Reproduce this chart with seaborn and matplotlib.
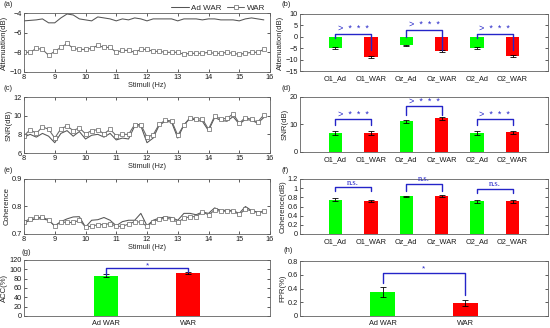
import numpy as np
import pandas as pd
import matplotlib
matplotlib.use("Agg")
import matplotlib.pyplot as plt
import seaborn as sns

# ---------------- data ----------------
freqs = [8.0, 8.2, 8.4, 8.6, 8.8, 9.0, 9.2, 9.4, 9.6, 9.8,
         10.0, 10.2, 10.4, 10.6, 10.8, 11.0, 11.2, 11.4, 11.6, 11.8,
         12.0, 12.2, 12.4, 12.6, 12.8, 13.0, 13.2, 13.4, 13.6, 13.8,
         14.0, 14.2, 14.4, 14.6, 14.8, 15.0, 15.2, 15.4, 15.6, 15.8]

att_ad = [-4.8, -4.75, -4.7, -4.6, -5.0, -5.0, -4.5, -4.1, -4.2, -4.6,
          -4.7, -4.8, -4.4, -4.5, -4.6, -4.8, -4.6, -4.7, -4.5, -4.6,
          -4.8, -4.6, -4.6, -4.6, -4.6, -4.8, -4.6, -4.6, -4.6, -4.7,
          -4.6, -4.6, -4.7, -4.7, -4.7, -4.8, -4.6, -4.5, -4.6, -4.7]
att_war = [-8.0, -8.0, -7.6, -7.7, -8.3, -7.9, -7.5, -7.1, -7.6, -7.7,
           -7.7, -7.6, -7.3, -7.5, -7.5, -8.0, -7.8, -7.8, -8.0, -7.7,
           -7.7, -7.9, -7.9, -8.0, -8.0, -8.0, -8.2, -8.1, -8.1, -8.1,
           -8.0, -8.1, -8.1, -8.0, -8.1, -8.2, -8.1, -8.0, -8.0, -7.7]

snr_ad = [7.7, 8.0, 7.7, 8.1, 7.8, 7.1, 8.1, 8.4, 7.8, 8.3,
          7.5, 7.9, 8.0, 7.7, 8.1, 7.4, 7.6, 7.5, 8.9, 8.9,
          7.1, 7.6, 9.0, 9.4, 9.3, 7.6, 9.0, 9.7, 9.5, 9.4,
          8.4, 9.8, 9.5, 9.4, 9.9, 9.1, 9.6, 9.5, 9.2, 9.8]
snr_war = [7.85, 8.5, 8.1, 8.8, 8.55, 7.6, 8.6, 8.9, 8.4, 8.7,
           8.05, 8.4, 8.5, 8.05, 8.55, 7.85, 8.0, 8.0, 9.05, 9.05,
           7.7, 7.95, 9.1, 9.5, 9.45, 7.9, 9.0, 9.8, 9.65, 9.65,
           8.55, 9.95, 9.65, 9.7, 10.2, 9.2, 9.8, 9.6, 9.3, 10.1]

coh_ad = [0.740, 0.750, 0.755, 0.755, 0.750, 0.730, 0.745, 0.755, 0.762, 0.763,
          0.725, 0.750, 0.752, 0.760, 0.750, 0.730, 0.745, 0.750, 0.750, 0.775,
          0.730, 0.750, 0.758, 0.762, 0.760, 0.750, 0.775, 0.775, 0.770, 0.780,
          0.775, 0.795, 0.785, 0.787, 0.785, 0.775, 0.800, 0.785, 0.780, 0.780]
coh_war = [0.744, 0.756, 0.760, 0.760, 0.752, 0.728, 0.744, 0.742, 0.742, 0.750,
           0.726, 0.728, 0.734, 0.734, 0.738, 0.728, 0.728, 0.736, 0.745, 0.743,
           0.728, 0.745, 0.754, 0.757, 0.754, 0.743, 0.757, 0.763, 0.763, 0.780,
           0.770, 0.786, 0.783, 0.783, 0.783, 0.771, 0.790, 0.784, 0.778, 0.783]

chan_labels = ["O1_Ad", "O1_WAR", "Oz_Ad", "Oz_WAR", "O2_Ad", "O2_WAR"]
att_bar = [-4.8, -8.8, -3.7, -6.2, -5.0, -8.5]
att_err = [0.5, 0.5, 0.3, 0.4, 0.5, 0.5]
snr_bar = [7.0, 6.9, 11.1, 12.2, 7.0, 7.1]
snr_err = [0.8, 0.8, 0.7, 0.6, 0.8, 0.7]
coh_bar = [0.75, 0.72, 0.82, 0.83, 0.71, 0.71]
coh_err = [0.03, 0.03, 0.02, 0.02, 0.03, 0.03]

method_labels = ["Ad WAR", "WAR"]
acc_bar = [86, 92]
acc_err = [3, 2]
fpr_bar = [0.35, 0.19]
fpr_err = [0.075, 0.045]

# significance brackets: (bracket y, left leg end, right leg end, text y)
att_sig = [(1.35, -0.5, -6.0, 3.8), (2.8, -0.3, -5.8, 5.6), (1.35, -0.5, -6.0, 3.8)]
snr_sig = [(12.1, 9.8, 9.8, 13.8), (16.7, 13.3, 13.3, 18.5), (12.1, 9.8, 9.8, 13.8)]
coh_sig = [(1.02, 0.94, 0.94, 1.12), (1.09, 0.93, 0.93, 1.19), (0.98, 0.89, 0.89, 1.08)]
acc_sig = (102, 88, 94, 108)
fpr_sig = (0.62, 0.48, 0.30, 0.69)

# ---------------- style ----------------
sns.set_style("ticks")
plt.rcParams["font.family"] = ["Liberation Sans", "DejaVu Sans"]
plt.rcParams["font.size"] = 5.3

FS = 5.3
GREEN = "#00ff00"
RED = "#ff0000"
BLUE = "#2424c8"
SPINE = "#606060"

fig = plt.figure(figsize=(5.5, 3.28), dpi=100)


def rect(l, r, t, b):
    return [l / 550, 1 - b / 328, (r - l) / 550, (b - t) / 328]


def style(ax):
    for s in ax.spines.values():
        s.set_visible(True)
        s.set_color(SPINE)
        s.set_linewidth(0.6)
    ax.tick_params(direction="in", length=2, width=0.5, top=True, right=True,
                   labelsize=FS, pad=1.5, colors="#1a1a1a")


def line_panel(ax, ad, war, ylabel, ylim, yticks, legend=False):
    df = pd.DataFrame({"f": freqs, "ad": ad, "war": war})
    sns.lineplot(data=df, x="f", y="ad", ax=ax, color="#555555", lw=0.75,
                 label="Ad WAR")
    sns.lineplot(data=df, x="f", y="war", ax=ax, color="#666666", lw=0.75,
                 marker="s", markersize=2.8, markerfacecolor="white",
                 markeredgecolor="#666666", markeredgewidth=0.5, label="WAR")
    ax.set_xlim(8, 16)
    ax.set_xticks(range(8, 17))
    ax.set_ylim(*ylim)
    ax.set_yticks(yticks)
    ax.set_ylabel(ylabel, fontsize=5.6, labelpad=1)
    ax.set_xlabel("Stimuli (Hz)", fontsize=FS, labelpad=0.5)
    style(ax)
    if legend:
        ax.legend(loc="lower right", bbox_to_anchor=(1.0, 0.93), ncol=2,
                  frameon=False, fontsize=5.8, handlelength=2.2,
                  columnspacing=0.6, handletextpad=0.3, borderpad=0.1)
    else:
        ax.get_legend().remove()


def bar_panel(ax, labels, vals, errs, ylabel, ylim, yticks, width):
    colors = [GREEN if i % 2 == 0 else RED for i in range(len(labels))]
    sns.barplot(x=labels, y=vals, hue=labels, palette=colors, ax=ax,
                width=width, errorbar=None, legend=False, saturation=1,
                linewidth=0)
    ax.errorbar(range(len(labels)), vals, yerr=errs, fmt="none", ecolor="black",
                elinewidth=0.6, capsize=2.5, capthick=0.6)
    ax.set_xlim(-1, len(labels))
    ax.set_ylim(*ylim)
    ax.set_yticks(yticks)
    ax.set_ylabel(ylabel, fontsize=5.6, labelpad=1)
    ax.set_xlabel("")
    style(ax)


def bracket(ax, x0, x1, sig, text, fs=6, family=None):
    y, l0, l1, ty = sig
    ax.plot([x0, x0, x1, x1], [l0, y, y, l1], color=BLUE, lw=1.0, zorder=5)
    kw = {}
    if family:
        kw["family"] = family
    ax.text((x0 + x1) / 2, ty, text, color=BLUE, ha="center", va="center",
            fontsize=fs, **kw)


# (a)
ax_a = fig.add_axes(rect(24, 270, 13, 72))
line_panel(ax_a, att_ad, att_war, "Attenuation(dB)", (-10, -4), [-10, -8, -6, -4],
           legend=True)
# (c)
ax_c = fig.add_axes(rect(24, 270, 97, 153))
line_panel(ax_c, snr_ad, snr_war, "SNR(dB)", (6, 12), [6, 8, 10, 12])
# (e)
ax_e = fig.add_axes(rect(24, 270, 179, 234))
line_panel(ax_e, coh_ad, coh_war, "Coherence", (0.7, 0.9), [0.7, 0.8, 0.9])

# (b)
ax_b = fig.add_axes(rect(300, 548, 14, 71))
bar_panel(ax_b, chan_labels, att_bar, att_err, "Attenuation(dB)", (-15, 10),
          [-15, -10, -5, 0, 5, 10], 0.38)
for k in range(3):
    bracket(ax_b, 2 * k, 2 * k + 1, att_sig[k], ">  *  *  *", fs=6.5)
# (d)
ax_d = fig.add_axes(rect(300, 548, 97, 152))
bar_panel(ax_d, chan_labels, snr_bar, snr_err, "SNR(dB)", (0, 20), [0, 10, 20], 0.38)
for k in range(3):
    bracket(ax_d, 2 * k, 2 * k + 1, snr_sig[k], ">  *  *  *", fs=6.5)
# (f)
ax_f = fig.add_axes(rect(300, 548, 179, 234))
bar_panel(ax_f, chan_labels, coh_bar, coh_err, "Coherence(dB)", (0, 1.2),
          [0, 0.2, 0.4, 0.6, 0.8, 1.0, 1.2], 0.38)
ax_f.set_yticklabels(["0", "0.2", "0.4", "0.6", "0.8", "1", "1.2"])
for k in range(3):
    bracket(ax_f, 2 * k, 2 * k + 1, coh_sig[k], "n.s.", fs=6.2,
            family=["Liberation Serif", "DejaVu Serif"])

# (g)
ax_g = fig.add_axes(rect(24, 270, 260, 316))
bar_panel(ax_g, method_labels, acc_bar, acc_err, "ACC(%)", (0, 120),
          [0, 20, 40, 60, 80, 100, 120], 0.3)
bracket(ax_g, 0, 1, acc_sig, "*", fs=6)
# (h)
ax_h = fig.add_axes(rect(300, 548, 261, 316))
bar_panel(ax_h, method_labels, fpr_bar, fpr_err, "FPR(%)", (0, 0.8),
          [0, 0.2, 0.4, 0.6, 0.8], 0.3)
ax_h.set_yticklabels(["0", "0.2", "0.4", "0.6", "0.8"])
bracket(ax_h, 0, 1, fpr_sig, "*", fs=6)

for ax in (ax_b, ax_d, ax_f, ax_g, ax_h):
    ax.tick_params(axis="x", length=0, pad=3)

# panel letters
for lab, x, y in [("(a)", 3, 5), ("(b)", 282, 5), ("(c)", 3, 88), ("(d)", 282, 89),
                  ("(e)", 3, 170), ("(f)", 282, 170), ("(g)", 21, 252),
                  ("(h)", 284, 251)]:
    fig.text(x / 550, 1 - y / 328, lab, fontsize=5.5, ha="left", va="center")

fig.savefig("out.png", dpi=100)
